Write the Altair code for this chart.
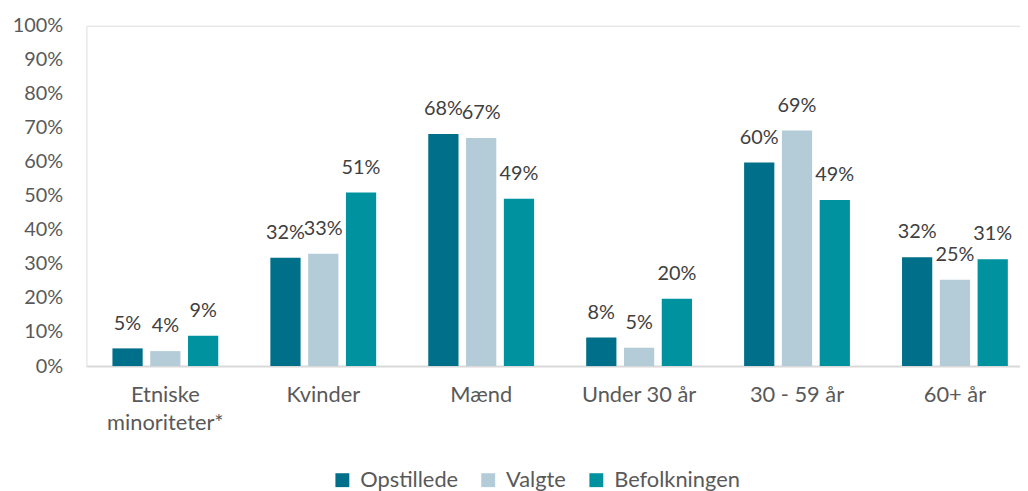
import altair as alt
import pandas as pd

categories = ["Etniske minoriteter*", "Kvinder", "Mænd", "Under 30 år", "30 - 59 år", "60+ år"]
series = ["Opstillede", "Valgte", "Befolkningen"]
opstillede = [5.2, 31.8, 68.2, 8.4, 59.8, 32.0]
valgte = [4.4, 33.0, 67.0, 5.4, 69.2, 25.4]
befolkningen = [8.9, 51.0, 49.2, 19.8, 48.8, 31.4]
colors = ["#006F8A", "#B4CCD8", "#00929E"]
y_ticks = list(range(0, 101, 10))

rows = []
for s, vals in zip(series, [opstillede, valgte, befolkningen]):
    for c, v in zip(categories, vals):
        rows.append({"kategori": c, "serie": s, "andel": v})
df = pd.DataFrame(rows)

FONT = "Lato"
FS = 20
FS_X = 22

x = alt.X(
    "kategori:N",
    sort=categories,
    scale=alt.Scale(paddingInner=0.33, paddingOuter=0.165, range=[0, 955]),
    axis=alt.Axis(
        title=None,
        labelAngle=0,
        ticks=False,
        domainColor="#D9D9D9",
        domainWidth=2,
        labelFont=FONT,
        labelFontSize=FS_X,
        labelColor="#595959",
        labelPadding=19,
        labelLineHeight=28,
        labelExpr="datum.label == 'Etniske minoriteter*' ? ['Etniske', 'minoriteter*'] : datum.label",
    ),
)
xoff = alt.XOffset("serie:N", sort=series, scale=alt.Scale(paddingInner=0.2))
y = alt.Y(
    "andel:Q",
    scale=alt.Scale(domain=[0, 100], nice=False),
    axis=alt.Axis(
        title=None,
        values=y_ticks,
        labelExpr="datum.value + '%'",
        grid=False,
        ticks=False,
        domain=False,
        labelFont=FONT,
        labelFontSize=FS,
        labelColor="#595959",
        labelPadding=24,
    ),
)
color = alt.Color(
    "serie:N",
    sort=series,
    scale=alt.Scale(domain=series, range=colors),
    legend=alt.Legend(
        title=None,
        orient="none",
        direction="horizontal",
        legendX=247,
        legendY=447,
        symbolType="square",
        symbolSize=196,
        symbolStrokeWidth=0,
        labelFont=FONT,
        labelFontSize=FS_X,
        labelColor="#595959",
        labelOffset=7,
        columnPadding=19,
    ),
)

bars = alt.Chart(df).mark_bar().encode(x=x, xOffset=xoff, y=y, color=color)
labels = alt.Chart(df).transform_calculate(
    txt="format(datum.andel, '.0f') + '%'"
).mark_text(
    font=FONT, fontSize=FS, color="#404040", baseline="alphabetic", dy=-19
).encode(
    x=x,
    xOffset=xoff,
    y=y,
    text="txt:N",
    detail="serie:N",
)

chart = (
    alt.layer(bars, labels)
    .properties(
        width=941,
        height=343,
        autosize=alt.AutoSizeParams(type="none"),
        padding={"left": 79, "top": 16, "right": 0, "bottom": 124},
    )
    .configure_view(stroke=None)
    .configure(font=FONT)
)

chart.save("out.html", embed_options={"renderer": "svg", "actions": False})
